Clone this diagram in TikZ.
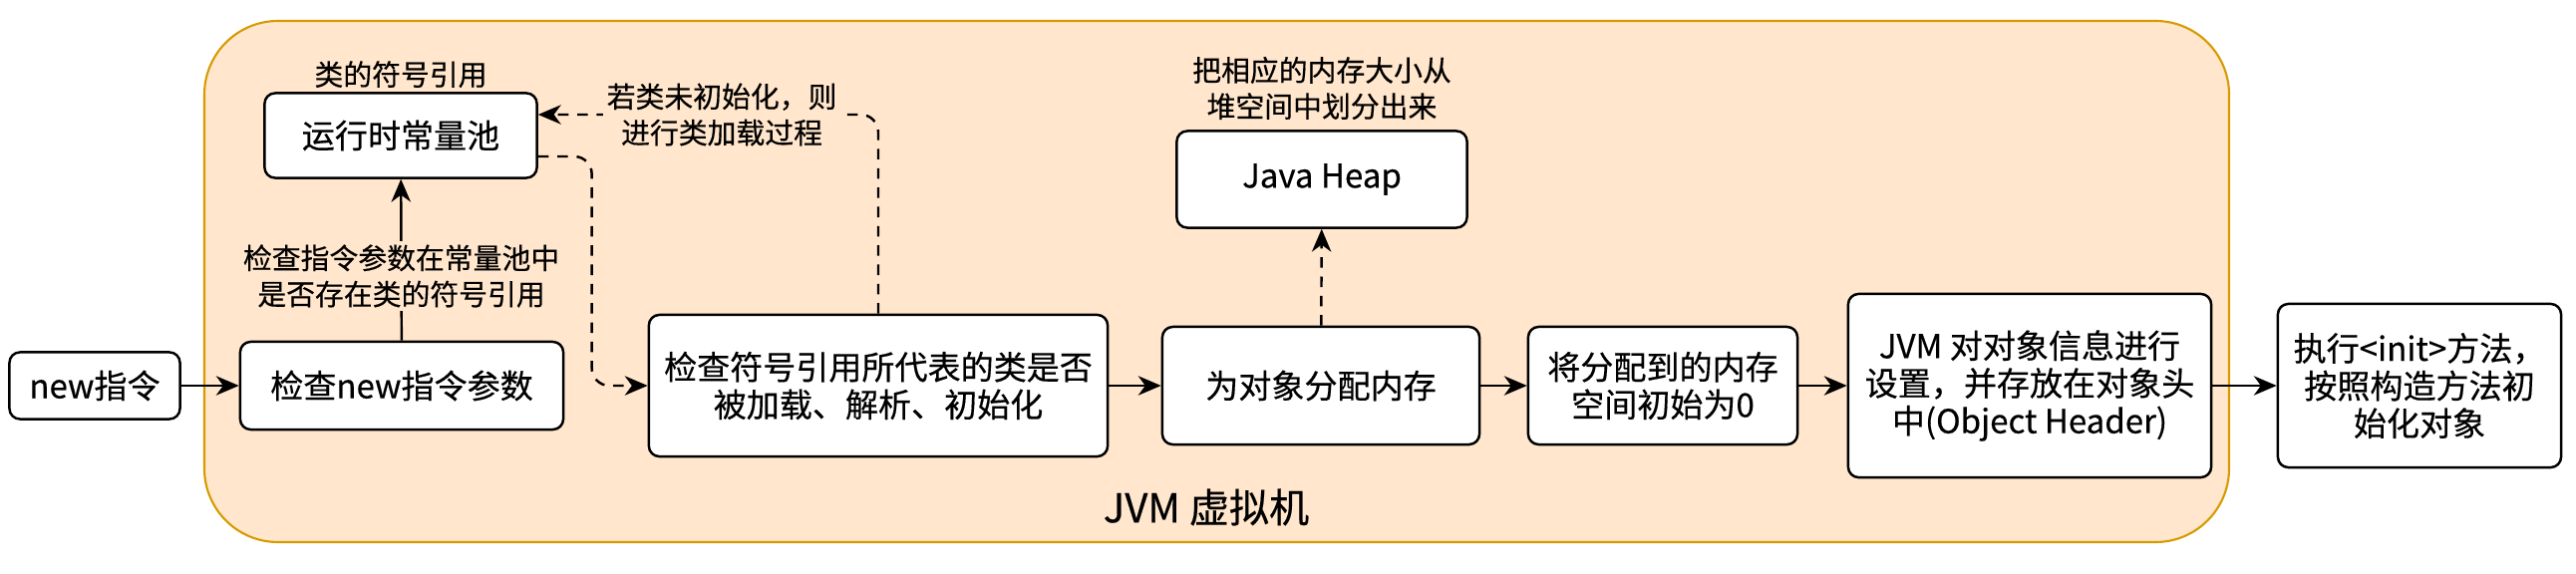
\documentclass[tikz,border=0pt]{standalone}
\usepackage{fontspec}
\setmainfont[FakeBold=0.4]{Noto Sans CJK SC}
\usepackage{tikz}
\usetikzlibrary{arrows.meta,positioning,calc}

\definecolor{jvmfill}{HTML}{FFE6CC}
\definecolor{jvmline}{HTML}{D79B00}
\newcommand{\boxfont}{\fontsize{9.4pt}{10.7pt}\selectfont}
\newcommand{\lblfont}{\fontsize{8.2pt}{10.3pt}\selectfont}

\tikzset{
  stage/.style={draw, fill=white, rounded corners=3pt, line width=0.7pt,
    align=center, inner sep=0pt, font=\boxfont},
  flow/.style={-{Stealth[length=6.5pt,width=5.5pt,inset=2pt]}, line width=0.7pt},
  dashes/.style={dash pattern=on 3pt off 2.5pt},
  hint/.style={fill=jvmfill, inner sep=1pt, align=center, font=\lblfont},
}

\begin{document}
\begin{tikzpicture}[x=0.01cm, y=-0.01cm]
  \fill[white] (0,0) rectangle (2584,576);
  \useasboundingbox (0,0) rectangle (2584,576);

  % JVM area
  \draw[fill=jvmfill, draw=jvmline, line width=0.6pt, rounded corners=21pt]
    (205,21) rectangle (2236,544);
  \node[font=\fontsize{11.4pt}{12pt}\selectfont] (jvm) at (1210,509) {JVM 虚拟机};

  % Steps
  \node[stage, minimum width=1.71cm, minimum height=0.67cm] (new) at (95,387) {new指令};
  \node[stage, minimum width=3.24cm, minimum height=0.88cm] (newchk) at (403,387) {检查new指令参数};
  \node[stage, minimum width=2.73cm, minimum height=0.85cm] (pool) at (402,136) {运行时常量池};
  \node[stage, minimum width=4.60cm, minimum height=1.42cm] (chk) at (881,387)
    {检查符号引用所代表的类是否\\被加载、解析、初始化};
  \node[stage, minimum width=3.18cm, minimum height=1.18cm] (alloc) at (1325,387) {为对象分配内存};
  \node[stage, minimum width=2.91cm, minimum height=0.97cm] (heap) at (1326,180) {Java Heap};
  \node[stage, minimum width=2.70cm, minimum height=1.18cm] (zero) at (1668,387)
    {将分配到的内存\\空间初始为0};
  \node[stage, minimum width=3.64cm, minimum height=1.84cm] (header) at (2036,387)
    {JVM 对对象信息进行\\设置，并存放在对象头\\中(Object Header)};
  \node[stage, minimum width=2.84cm, minimum height=1.64cm] (init) at (2427,387)
    {执行<init>方法，\\按照构造方法初\\始化对象};

  % Notes above boxes
  \node[hint, fill=none, above=0cm of pool] (poolnote) {类的符号引用};
  \node[hint, fill=none, above=0.06cm of heap] (heapnote) {把相应的内存大小从\\堆空间中划分出来};

  % Main flow
  \foreach \a/\b in {new/newchk, chk/alloc, alloc/zero, zero/header, header/init}
    \draw[flow] (\a) -- (\b);

  \draw[flow] (newchk) -- (pool)
    node[hint, pos=0.4] {检查指令参数在常量池中\\是否存在类的符号引用};

  % Dashed links
  \draw[flow, dashes, rounded corners=5pt] ($(pool.east)+(0,21)$) -| ($(chk.west)+(-56,0)$) -- (chk.west);
  \draw[flow, dashes, rounded corners=5pt] (chk.north) |- ($(pool.east)+(0,-21)$)
    node[hint, pos=0.73] {若类未初始化，则\\进行类加载过程};
  \draw[flow, dashes] (alloc) -- (heap);
\end{tikzpicture}
\end{document}
